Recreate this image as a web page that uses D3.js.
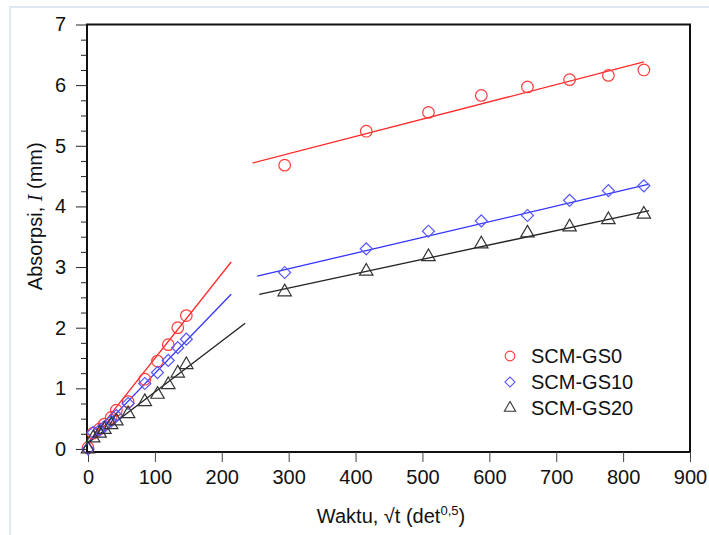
<!DOCTYPE html>
<html>
<head>
<meta charset="utf-8">
<script src="https://cdn.jsdelivr.net/npm/d3@7"></script>
<style>
  html, body { margin: 0; padding: 0; background: #fff; }
  svg { display: block; font-family: "Liberation Sans", Arial, sans-serif; }
</style>
</head>
<body>
<svg id="chart" width="709" height="535"></svg>
<script>
// ---- data ----
const seriesNames = ["SCM-GS0", "SCM-GS10", "SCM-GS20"];
const xEarly = [0, 7.7, 17.3, 24.5, 34.6, 42.4, 60, 84.9, 103.9, 120, 134.2, 147];
const xLate = [294, 416, 509, 588, 657, 720, 778, 831];
const gs0Early = [0.02, 0.26, 0.33, 0.41, 0.52, 0.64, 0.78, 1.15, 1.45, 1.72, 2.0, 2.2];
const gs0Late = [4.68, 5.24, 5.55, 5.83, 5.97, 6.09, 6.16, 6.25];
const gs10Early = [0, 0.27, 0.31, 0.37, 0.46, 0.55, 0.75, 1.08, 1.26, 1.46, 1.67, 1.81];
const gs10Late = [2.91, 3.30, 3.59, 3.76, 3.85, 4.10, 4.26, 4.34];
const gs20Early = [0, 0.18, 0.26, 0.32, 0.40, 0.46, 0.58, 0.78, 0.90, 1.06, 1.25, 1.39];
const gs20Late = [2.59, 2.93, 3.17, 3.38, 3.56, 3.66, 3.78, 3.87];
// regression lines (slope, intercept, x-start, x-end)
const fitEarlySlope = [0.01394, 0.01146, 0.00839];
const fitEarlyIntercept = [0.1, 0.1, 0.1];
const fitEarlyStart = [0, 0, 0];
const fitEarlyEnd = [214, 214, 235];
const fitLateSlope = [0.00285, 0.00259, 0.002367];
const fitLateIntercept = [4.014, 2.194, 1.944];
const fitLateStart = [246, 253, 256];
const fitLateEnd = [831, 839, 839];
const xTickValues = [0, 100, 200, 300, 400, 500, 600, 700, 800, 900];
const yTickValues = [0, 1, 2, 3, 4, 5, 6, 7];

// ---- styles ----
const colors = ["#ff2a2a", "#3333ff", "#222222"];
const markerColors = ["#ff3b3b", "#5555ff", "#333333"];
const shapes = [d3.symbolCircle, d3.symbolSquare, d3.symbolTriangle];
const shapeRot = [0, 45, 0];
const shapeSizes = [105, 72, 78];

const svg = d3.select("#chart");
// faint page border
svg.append("rect").attr("x", 10).attr("y", 7).attr("width", 760).attr("height", 600)
  .attr("fill", "none").attr("stroke", "#dfe8f3").attr("stroke-width", 2);

const L = 87, R = 690, T = 24.5, B = 452;
const x = d3.scaleLinear().domain([-1.5, 900]).range([L, R]);
const y = d3.scaleLinear().domain([-0.05, 7]).range([B, T]);

// frame
svg.append("rect").attr("x", L).attr("y", T).attr("width", R - L).attr("height", B - T)
  .attr("fill", "none").attr("stroke", "#111").attr("stroke-width", 2);

// x axis
const xAxis = d3.axisBottom(x).tickValues(xTickValues).tickSize(10).tickPadding(8).tickFormat(d3.format("d"));
const gx = svg.append("g").attr("transform", `translate(0,${B})`).call(xAxis);
gx.select(".domain").remove();
gx.selectAll("line").attr("stroke", "#444");
gx.selectAll("text").attr("font-size", 20).attr("fill", "#111").attr("font-family", "Liberation Sans, Arial, sans-serif");

// y axis minor
const yMinor = d3.range(0, 7.001, 0.25).filter(v => Math.abs(v - Math.round(v)) > 1e-6);
const yAxisMinor = d3.axisLeft(y).tickValues(yMinor).tickSize(6).tickFormat("");
const gym = svg.append("g").attr("transform", `translate(${L},0)`).call(yAxisMinor);
gym.select(".domain").remove();
gym.selectAll("line").attr("stroke", "#222");
// y axis major
const yAxis = d3.axisLeft(y).tickValues(yTickValues).tickSize(11).tickPadding(10).tickFormat(d3.format("d"));
const gy = svg.append("g").attr("transform", `translate(${L},0)`).call(yAxis);
gy.select(".domain").remove();
gy.selectAll("line").attr("stroke", "#222");
gy.selectAll("text").attr("font-size", 20).attr("fill", "#111").attr("font-family", "Liberation Sans, Arial, sans-serif");

// fit lines
const line = d3.line().x(d => x(d[0])).y(d => y(d[1]));
for (let i = 0; i < 3; i++) {
  const e = [fitEarlyStart[i], fitEarlyEnd[i]].map(v => [v, fitEarlyIntercept[i] + fitEarlySlope[i] * v]);
  const l = [fitLateStart[i], fitLateEnd[i]].map(v => [v, fitLateIntercept[i] + fitLateSlope[i] * v]);
  [e, l].forEach(seg => svg.append("path").attr("d", line(seg)).attr("fill", "none")
    .attr("stroke", colors[i]).attr("stroke-width", 1.3));
}

// markers
const early = [gs0Early, gs10Early, gs20Early];
const late = [gs0Late, gs10Late, gs20Late];
for (let i = 0; i < 3; i++) {
  const pts = xEarly.map((v, j) => [v, early[i][j]]).concat(xLate.map((v, j) => [v, late[i][j]]));
  const sym = d3.symbol().type(shapes[i]).size(shapeSizes[i]);
  svg.append("g").selectAll("path").data(pts).join("path")
    .attr("d", sym)
    .attr("transform", d => `translate(${x(d[0])},${y(d[1])}) rotate(${shapeRot[i]})`)
    .attr("fill", "none").attr("stroke", markerColors[i]).attr("stroke-width", 1.2);
}

// legend
const legY = [356, 382, 408];
seriesNames.forEach((name, i) => {
  const sym = d3.symbol().type(shapes[i]).size(shapeSizes[i] * 0.7);
  svg.append("path").attr("d", sym).attr("transform", `translate(510,${legY[i]}) rotate(${shapeRot[i]})`)
    .attr("fill", "none").attr("stroke", markerColors[i]).attr("stroke-width", 1.1);
  svg.append("text").attr("x", 531).attr("y", legY[i]).attr("dy", "0.35em")
    .attr("font-size", 20).attr("fill", "#111").text(name);
});

// axis titles
const yt = svg.append("text").attr("transform", `translate(42,${(T + B) / 2 - 22}) rotate(-90)`)
  .attr("text-anchor", "middle").attr("font-size", 20).attr("fill", "#111");
yt.append("tspan").text("Absorpsi, ");
yt.append("tspan").attr("font-family", "Liberation Serif, Times New Roman, serif").attr("font-style", "italic").text("I");
yt.append("tspan").text(" (mm)");

const xt = svg.append("text").attr("x", 391).attr("y", 523).attr("text-anchor", "middle")
  .attr("font-size", 20).attr("fill", "#111");
xt.append("tspan").text("Waktu, \u221At (det");
xt.append("tspan").attr("font-size", 13).attr("dy", -8).text("0,5");
xt.append("tspan").attr("dy", 8).text(")");
</script>
</body>
</html>
